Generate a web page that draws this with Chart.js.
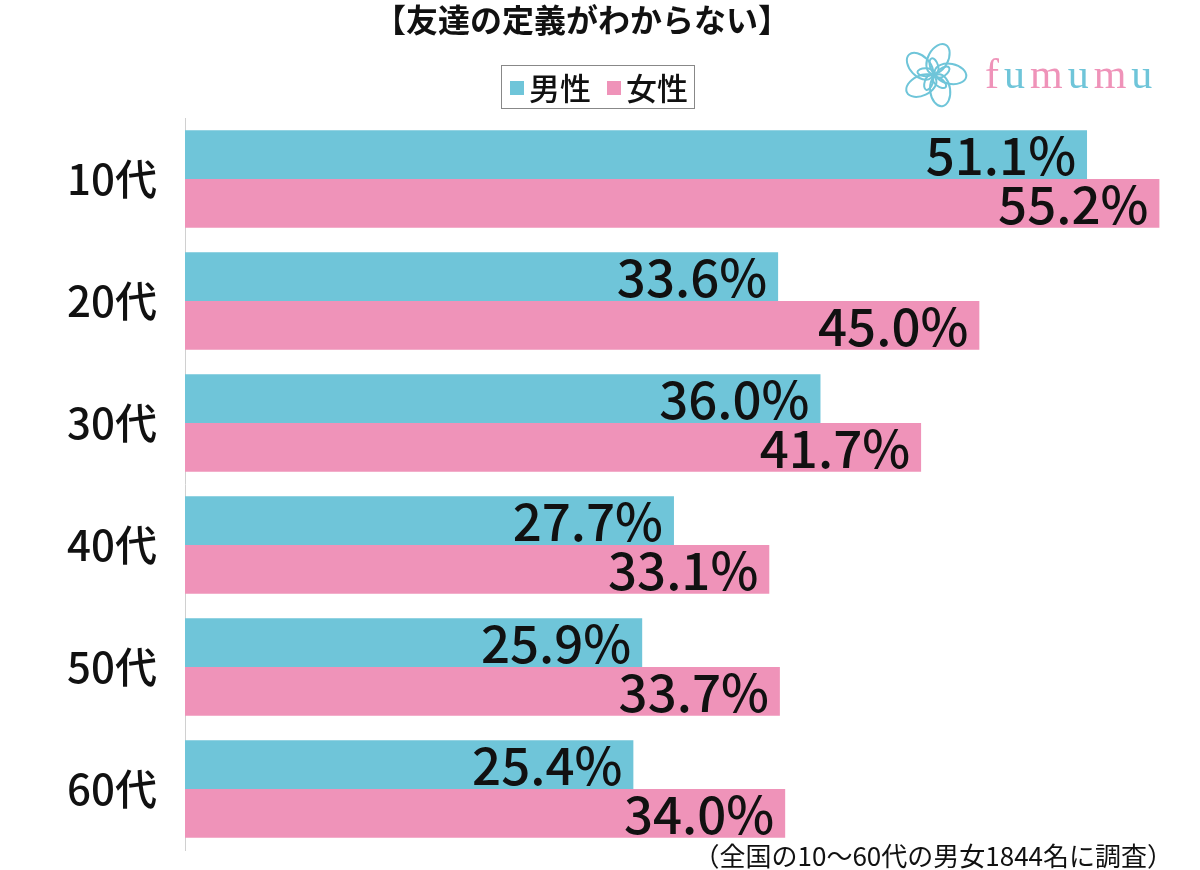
<!DOCTYPE html>
<html>
<head>
<meta charset="utf-8">
<script src="https://cdn.jsdelivr.net/npm/chart.js@4"></script>
<style>
  body { margin: 0; background: #fff; }
  #wrap { width: 1200px; height: 870px; position: relative; }
</style>
</head>
<body>
<div id="wrap"><canvas id="chart"></canvas></div>
<script>
const categories = ['10代', '20代', '30代', '40代', '50代', '60代'];
const maleValues = [51.1, 33.6, 36.0, 27.7, 25.9, 25.4];
const femaleValues = [55.2, 45.0, 41.7, 33.1, 33.7, 34.0];
const seriesNames = ['男性', '女性'];
const chartTitle = '【友達の定義がわからない】';
const footNote = '（全国の10～60代の男女1844名に調査）';

const CYAN = '#6fc5d9';
const PINK = '#ef93b9';
const JP = "'Noto Sans CJK JP', sans-serif";

// タイトル・凡例・ロゴ・注記
const decoPlugin = {
    id: 'deco',
    afterDraw(chart) {
        const ctx = chart.ctx;
        ctx.save();
        ctx.fillStyle = '#111';
        ctx.textBaseline = 'middle';
        ctx.textAlign = 'center';
        ctx.font = "bold 32px " + JP;
        ctx.fillText(chartTitle, 582, 20);

        // legend box
        ctx.strokeStyle = '#888';
        ctx.lineWidth = 1;
        ctx.strokeRect(501.5, 65.5, 193, 43);
        ctx.textAlign = 'left';
        ctx.font = "500 31px " + JP;
        ctx.fillStyle = CYAN;
        ctx.fillRect(510, 81, 14, 14);
        ctx.fillStyle = '#111';
        ctx.fillText(seriesNames[0], 529, 88);
        ctx.fillStyle = PINK;
        ctx.fillRect(607, 81, 14, 14);
        ctx.fillStyle = '#111';
        ctx.fillText(seriesNames[1], 626, 88);

        // logo
        ctx.strokeStyle = CYAN;
        ctx.lineWidth = 2;
        for (let i = 0; i < 5; i++) {
            ctx.save();
            ctx.translate(934, 75);
            ctx.rotate(i * Math.PI * 2 / 5);
            ctx.beginPath();
            ctx.ellipse(4, -16, 10, 16, 0.5, 0, Math.PI * 2);
            ctx.stroke();
            ctx.beginPath();
            ctx.ellipse(0, -9, 4, 8, -0.3, 0, Math.PI * 2);
            ctx.stroke();
            ctx.restore();
        }
        const letters = 'fumumu';
        const cols = [PINK, CYAN, PINK, CYAN, PINK, CYAN];
        ctx.font = "42px 'Liberation Serif', 'DejaVu Serif', serif";
        ctx.textBaseline = 'alphabetic';
        let x = 985;
        for (let i = 0; i < letters.length; i++) {
            ctx.fillStyle = cols[i];
            ctx.fillText(letters[i], x, 88);
            x += ctx.measureText(letters[i]).width + 5;
        }

        // footnote
        ctx.fillStyle = '#111';
        ctx.textAlign = 'right';
        ctx.textBaseline = 'middle';
        ctx.font = "26px " + JP;
        ctx.fillText(footNote, 1173, 856);
        ctx.restore();
    }
};

// バーの値ラベル
const valueLabels = {
    id: 'valueLabels',
    afterDatasetsDraw(chart) {
        const ctx = chart.ctx;
        ctx.save();
        ctx.fillStyle = '#111';
        ctx.font = "500 51px " + JP;
        ctx.textAlign = 'right';
        ctx.textBaseline = 'middle';
        chart.data.datasets.forEach((ds, di) => {
            chart.getDatasetMeta(di).data.forEach((bar, i) => {
                ctx.fillText(ds.data[i].toFixed(1) + '%', bar.x - 11, bar.y + 1);
            });
        });
        ctx.restore();
    }
};

new Chart(document.getElementById('chart'), {
    type: 'bar',
    data: {
        labels: categories,
        datasets: [
            { label: seriesNames[0], data: maleValues, backgroundColor: CYAN },
            { label: seriesNames[1], data: femaleValues, backgroundColor: PINK }
        ]
    },
    options: {
        indexAxis: 'y',
        responsive: true,
        maintainAspectRatio: false,
        animation: false,
        layout: { padding: { top: 118, bottom: 20, left: 0, right: 0 } },
        datasets: { bar: { categoryPercentage: 0.8, barPercentage: 1.0 } },
        plugins: { legend: { display: false }, tooltip: { enabled: false } },
        scales: {
            x: { display: false, min: 0, max: 57.5 },
            y: {
                grid: { display: true, drawOnChartArea: false, drawTicks: false },
                border: { display: true, color: '#d0d0d0', width: 1 },
                ticks: { color: '#111', font: { size: 42, family: JP, weight: '500' }, padding: 28 },
                afterFit(scale) {
                    scale.width = 185;
                    scale.paddingTop = 0;
                    scale.paddingBottom = 0;
                }
            }
        }
    },
    plugins: [valueLabels, decoPlugin]
});
</script>
</body>
</html>
